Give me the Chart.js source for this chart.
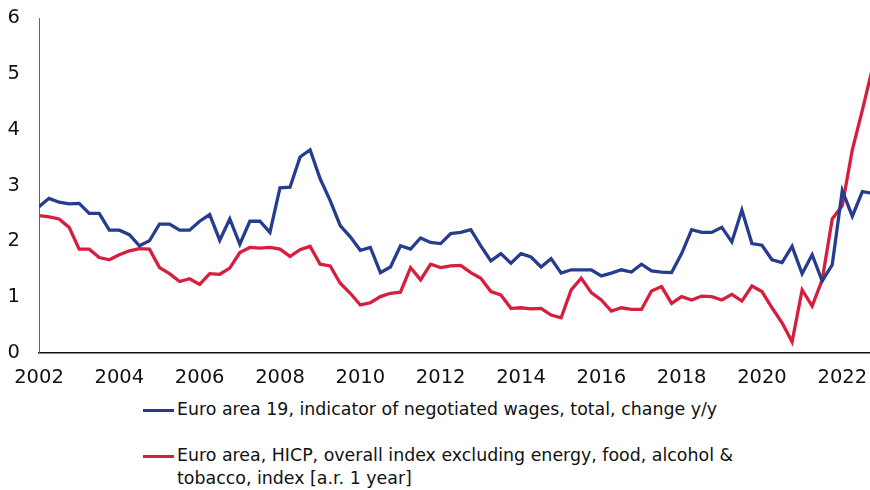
<!DOCTYPE html>
<html>
<head>
<meta charset="utf-8">
<script src="https://cdn.jsdelivr.net/npm/chart.js@4/dist/chart.umd.min.js"></script>
<style>
  html, body { margin: 0; padding: 0; background: #fff; }
  body { width: 870px; height: 490px; position: relative; overflow: hidden;
         font-family: "DejaVu Sans", sans-serif; }
  #wrap { position: absolute; left: 0; top: 0; width: 870px; height: 395px; }
  .legend { position: absolute; left: 143px; color: #111; font-size: 17.4px; line-height: 23px; }
  .legend .swatch { position: absolute; left: 0; width: 31px; height: 3px; top: 11px; }
  .legend .text { margin-left: 34px; white-space: nowrap; }
</style>
</head>
<body>
<div id="wrap"><canvas id="wageChart"></canvas></div>
<div class="legend" style="top:398px"><span class="swatch" style="background:#263c8c"></span><div class="text">Euro area 19, indicator of negotiated wages, total, change y/y</div></div>
<div class="legend" style="top:444px"><span class="swatch" style="background:#d81e3e"></span><div class="text">Euro area, HICP, overall index excluding energy, food, alcohol &amp;<br>tobacco, index [a.r. 1 year]</div></div>
<script>
// quarterly data, 2002Q1 .. 2022Q4
const startYear = 2002;
const yearTicks = [2002, 2004, 2006, 2008, 2010, 2012, 2014, 2016, 2018, 2020, 2022];
const yTicks = [0, 1, 2, 3, 4, 5, 6];

const wages = [
  2.62, 2.77, 2.70, 2.67, 2.68, 2.50, 2.50, 2.20, 2.20, 2.12, 1.92, 2.01,
  2.31, 2.31, 2.20, 2.20, 2.36, 2.48, 2.02, 2.40, 1.95, 2.36, 2.36, 2.16,
  2.96, 2.97, 3.51, 3.64, 3.12, 2.73, 2.28, 2.08, 1.84, 1.89, 1.44, 1.54,
  1.92, 1.86, 2.06, 1.98, 1.96, 2.14, 2.16, 2.21, 1.92, 1.65, 1.78, 1.61,
  1.78, 1.72, 1.54, 1.69, 1.43, 1.49, 1.49, 1.49, 1.38, 1.43, 1.49, 1.45,
  1.59, 1.47, 1.45, 1.44, 1.78, 2.21, 2.16, 2.16, 2.25, 1.99, 2.56, 1.96,
  1.93, 1.67, 1.62, 1.91, 1.42, 1.76, 1.29, 1.58, 2.91, 2.45, 2.89, 2.86
];

const coreHicp = [
  2.46, 2.44, 2.40, 2.25, 1.86, 1.86, 1.71, 1.67, 1.76, 1.83, 1.87, 1.86,
  1.53, 1.42, 1.28, 1.33, 1.23, 1.42, 1.41, 1.52, 1.80, 1.89, 1.88, 1.89,
  1.86, 1.73, 1.85, 1.91, 1.59, 1.56, 1.25, 1.07, 0.86, 0.90, 1.01, 1.07,
  1.09, 1.53, 1.31, 1.59, 1.53, 1.56, 1.57, 1.44, 1.34, 1.10, 1.04, 0.80,
  0.81, 0.79, 0.80, 0.68, 0.63, 1.13, 1.34, 1.08, 0.95, 0.75, 0.81, 0.78,
  0.78, 1.11, 1.19, 0.89, 1.01, 0.95, 1.02, 1.01, 0.95, 1.05, 0.93, 1.20,
  1.10, 0.81, 0.54, 0.20, 1.13, 0.84, 1.31, 2.40, 2.64, 3.64, 4.35, 5.10
];

const seriesNames = [
  'Euro area 19, indicator of negotiated wages, total, change y/y',
  'Euro area, HICP, overall index excluding energy, food, alcohol & tobacco, index [a.r. 1 year]'
];

function toPoints(arr) {
  return arr.map((v, i) => ({ x: startYear + i / 4, y: v }));
}

const tickFont = { family: '"DejaVu Sans", sans-serif', size: 19.5 };

new Chart(document.getElementById('wageChart'), {
  type: 'line',
  data: {
    datasets: [{
      label: seriesNames[0],
      data: toPoints(wages),
      borderColor: '#263c8c',
      borderWidth: 3.3,
      pointRadius: 0,
      tension: 0
    }, {
      label: seriesNames[1],
      data: toPoints(coreHicp),
      borderColor: '#d81e3e',
      borderWidth: 3.3,
      pointRadius: 0,
      tension: 0
    }]
  },
  options: {
    responsive: true,
    maintainAspectRatio: false,
    animation: false,
    layout: { padding: { top: 18, right: 0, left: 0, bottom: 0 } },
    plugins: { legend: { display: false }, tooltip: { enabled: false } },
    scales: {
      x: {
        type: 'linear',
        min: 2002,
        max: 2022.69,
        afterBuildTicks: s => { s.ticks = yearTicks.map(v => ({ value: v })); },
        afterFit: s => { s.height = 42; s.paddingLeft = 0; s.paddingRight = 0; },
        grid: { display: false, drawTicks: false },
        border: { display: true, color: '#111', width: 1.5 },
        ticks: { color: '#111', font: tickFont, padding: 13, maxRotation: 0, autoSkip: false,
                 callback: v => String(v) }
      },
      y: {
        min: 0,
        max: 6,
        afterBuildTicks: s => { s.ticks = yTicks.map(v => ({ value: v })); },
        afterFit: s => { s.width = 39; s.paddingTop = 0; s.paddingBottom = 0; },
        grid: { display: false, drawTicks: false },
        border: { display: true, color: '#666', width: 1 },
        ticks: { color: '#111', font: tickFont, padding: 19, callback: v => String(v) }
      }
    }
  }
});
</script>
</body>
</html>
